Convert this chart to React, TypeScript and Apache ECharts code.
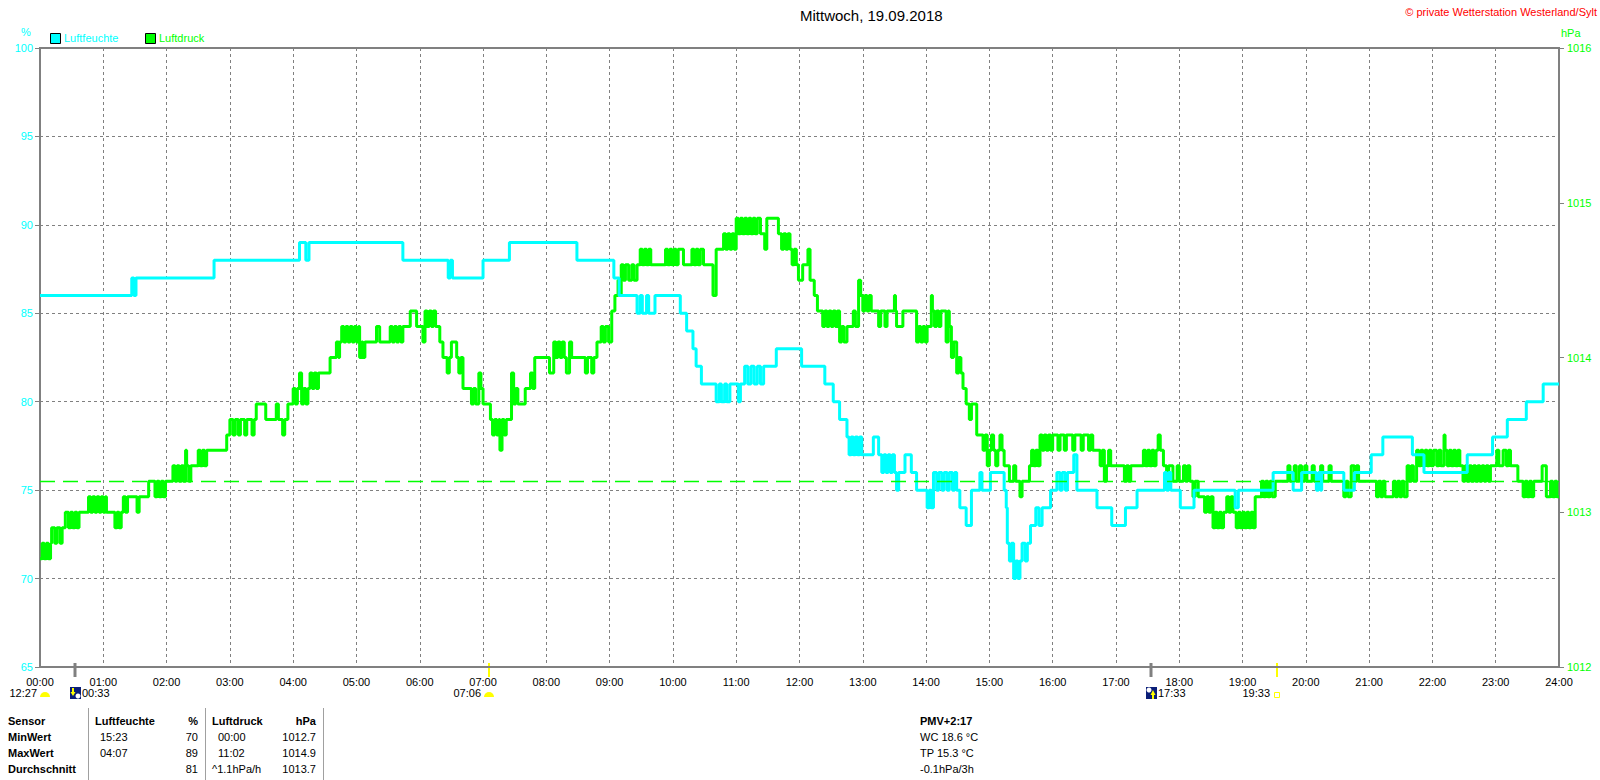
import React, { useEffect, useRef } from "react";
import * as echarts from "echarts";

const TITLE = "Mittwoch, 19.09.2018";
const COPYRIGHT = "© private Wetterstation Westerland/Sylt";
const HUM_NAME = "Luftfeuchte";
const PRES_NAME = "Luftdruck";
const HUM_UNIT = "%";
const PRES_UNIT = "hPa";
const HUM_COLOR = "#00FFFF";
const PRES_COLOR = "#00FF00";
const GRID_COLOR = "#808080";
const FONT = "Liberation Sans, Arial, sans-serif";

// humidity [minute of day, %]
const humidity: [number, number][] = [
  [0, 86], [87, 87], [89, 86], [91, 87],
  [165, 88],
  [246, 89], [252, 88], [255, 89],
  [344, 88],
  [387, 87], [389, 88], [391, 87],
  [420, 88],
  [445, 89],
  [509, 88],
  [544, 87],
  [549, 86],
  [566, 85], [569, 86], [571, 85], [575, 86], [577, 85],
  [583, 86],
  [607, 85], [613, 84], [619, 83], [622, 82], [627, 81],
  [641, 80], [644, 81], [646, 80], [649, 81], [651, 80],
  [654, 81],
  [662, 80], [664, 81],
  [668, 82], [671, 81], [674, 82], [677, 81], [680, 82], [683, 81], [686, 82],
  [698, 83],
  [722, 82],
  [744, 81], [752, 80], [758, 79],
  [765, 78], [767, 77], [769, 78], [771, 77], [773, 78], [775, 77], [777, 78], [779, 77],
  [790, 78], [795, 77],
  [798, 76], [800, 77], [802, 76], [804, 77], [806, 76], [808, 77], [810, 76],
  [812, 75], [814, 76],
  [820, 77],
  [826, 76],
  [831, 75],
  [841, 74], [843, 75], [845, 74],
  [847, 76], [850, 75], [852, 76], [855, 75], [857, 76], [860, 75], [862, 76], [865, 75], [867, 76],
  [869, 75],
  [872, 74],
  [878, 73],
  [883, 75],
  [891, 76],
  [893, 75],
  [901, 76],
  [914, 75], [916, 74],
  [917, 72], [919, 71], [921, 72],
  [923, 70], [925, 71], [927, 70], [929, 71],
  [931, 72], [934, 71], [936, 72],
  [939, 73],
  [944, 74], [947, 73], [950, 74],
  [958, 75],
  [964, 76], [967, 75], [969, 76], [972, 75], [974, 76],
  [980, 77],
  [983, 75],
  [1002, 74],
  [1016, 73],
  [1029, 74],
  [1040, 75],
  [1066, 76], [1068, 75], [1070, 76],
  [1072, 75],
  [1081, 74],
  [1094, 75],
  [1133, 74], [1136, 75],
  [1169, 76],
  [1188, 75],
  [1196, 76],
  [1210, 75], [1212, 76], [1214, 75],
  [1215, 76],
  [1236, 75],
  [1246, 76],
  [1262, 77],
  [1273, 78],
  [1301, 77],
  [1312, 76],
  [1353, 77],
  [1377, 78],
  [1391, 79],
  [1409, 80],
  [1425, 81],
  [1440, 81],
];

// air pressure [minute of day, hPa]
const pressure: [number, number][] = [
  [0, 1012.7], [2, 1012.8], [4, 1012.7], [6, 1012.8], [8, 1012.7], [10, 1012.8],
  [11, 1012.9], [14, 1012.8], [16, 1012.9], [19, 1012.8], [21, 1012.9],
  [24, 1013.0], [27, 1012.9], [29, 1013.0], [31, 1012.9], [33, 1013.0], [35, 1012.9], [37, 1013.0],
  [46, 1013.1], [48, 1013.0], [50, 1013.1], [52, 1013.0], [54, 1013.1], [56, 1013.0], [58, 1013.1], [60, 1013.0], [62, 1013.1],
  [63, 1013.0],
  [71, 1012.9], [73, 1013.0], [75, 1012.9], [77, 1013.0],
  [79, 1013.1], [81, 1013.0], [83, 1013.1],
  [92, 1013.0], [94, 1013.1],
  [103, 1013.2],
  [109, 1013.1], [111, 1013.2], [113, 1013.1], [115, 1013.2], [117, 1013.1], [119, 1013.2],
  [126, 1013.3], [128, 1013.2], [130, 1013.3], [132, 1013.2], [134, 1013.3], [136, 1013.2], [138, 1013.4], [139, 1013.3], [141, 1013.2], [143, 1013.3],
  [150, 1013.4], [152, 1013.3], [154, 1013.4], [156, 1013.3], [158, 1013.4],
  [177, 1013.5],
  [180, 1013.6], [183, 1013.5], [185, 1013.6], [188, 1013.5], [190, 1013.6], [194, 1013.5], [196, 1013.6],
  [201, 1013.5], [203, 1013.6],
  [205, 1013.7],
  [214, 1013.6],
  [224, 1013.7], [226, 1013.6],
  [230, 1013.5], [232, 1013.6],
  [235, 1013.7],
  [240, 1013.8], [242, 1013.7], [244, 1013.8], [246, 1013.9], [248, 1013.7], [250, 1013.8], [252, 1013.7], [254, 1013.8],
  [256, 1013.9], [258, 1013.8], [260, 1013.9], [262, 1013.8], [264, 1013.9],
  [275, 1014.0],
  [281, 1014.1], [283, 1014.0], [284, 1014.1],
  [286, 1014.2], [288, 1014.1], [290, 1014.2], [292, 1014.1], [294, 1014.2], [296, 1014.1], [298, 1014.2], [300, 1014.1], [302, 1014.2],
  [303, 1014.0], [305, 1014.1], [306, 1014.0],
  [308, 1014.1],
  [319, 1014.2],
  [322, 1014.1],
  [332, 1014.2], [334, 1014.1], [336, 1014.2], [338, 1014.1], [340, 1014.2], [342, 1014.1],
  [344, 1014.2],
  [351, 1014.3],
  [357, 1014.2],
  [363, 1014.1], [365, 1014.3], [367, 1014.2], [369, 1014.3], [371, 1014.2], [373, 1014.3], [375, 1014.2],
  [379, 1014.1],
  [382, 1014.0],
  [386, 1013.9], [388, 1014.0],
  [390, 1014.1],
  [395, 1014.0], [397, 1013.9], [399, 1014.0],
  [401, 1013.8],
  [409, 1013.7], [411, 1013.8], [413, 1013.7],
  [416, 1013.9], [418, 1013.8],
  [420, 1013.7],
  [427, 1013.6], [429, 1013.5], [431, 1013.6], [433, 1013.5], [435, 1013.6],
  [436, 1013.4],
  [438, 1013.6], [440, 1013.5], [442, 1013.6],
  [447, 1013.9], [449, 1013.7], [451, 1013.8],
  [453, 1013.7],
  [460, 1013.8],
  [465, 1013.9], [467, 1013.8],
  [469, 1014.0],
  [483, 1013.9],
  [487, 1014.1], [489, 1014.0], [491, 1014.1], [493, 1014.0], [495, 1014.1], [497, 1014.0],
  [499, 1013.9],
  [502, 1014.1], [504, 1014.0],
  [517, 1013.9],
  [519, 1014.0], [523, 1013.9], [525, 1014.0],
  [528, 1014.1],
  [532, 1014.2], [534, 1014.1], [536, 1014.2],
  [539, 1014.1],
  [542, 1014.3],
  [545, 1014.4],
  [548, 1014.5], [550, 1014.4],
  [551, 1014.6], [553, 1014.5], [555, 1014.6],
  [558, 1014.5], [561, 1014.6], [563, 1014.5], [566, 1014.6],
  [569, 1014.7], [571, 1014.6], [573, 1014.7], [575, 1014.6], [577, 1014.7], [579, 1014.6],
  [593, 1014.7], [595, 1014.6], [597, 1014.7], [599, 1014.6], [601, 1014.7], [603, 1014.6],
  [605, 1014.7],
  [610, 1014.6],
  [618, 1014.7], [620, 1014.6], [622, 1014.7], [624, 1014.6], [626, 1014.7],
  [629, 1014.6],
  [638, 1014.4],
  [641, 1014.7],
  [648, 1014.8],
  [650, 1014.7], [652, 1014.8], [654, 1014.7], [656, 1014.8], [658, 1014.7],
  [660, 1014.9], [662, 1014.8], [664, 1014.9], [666, 1014.8], [668, 1014.9], [670, 1014.8], [672, 1014.9], [674, 1014.8], [676, 1014.9], [678, 1014.8], [680, 1014.9],
  [683, 1014.8],
  [687, 1014.7],
  [689, 1014.9],
  [700, 1014.8],
  [703, 1014.7], [705, 1014.8], [707, 1014.7], [709, 1014.8], [711, 1014.7],
  [713, 1014.6], [715, 1014.7], [717, 1014.6],
  [719, 1014.5],
  [723, 1014.6],
  [728, 1014.7],
  [730, 1014.5],
  [734, 1014.4],
  [737, 1014.3],
  [742, 1014.2], [744, 1014.3], [746, 1014.2], [748, 1014.3], [750, 1014.2], [752, 1014.3], [754, 1014.2], [756, 1014.3],
  [758, 1014.1], [760, 1014.2], [762, 1014.1],
  [765, 1014.2],
  [771, 1014.3], [773, 1014.2],
  [776, 1014.5],
  [778, 1014.4], [780, 1014.3], [782, 1014.4], [784, 1014.3], [786, 1014.4], [788, 1014.3],
  [795, 1014.2], [797, 1014.3], [801, 1014.2], [803, 1014.3], [810, 1014.4], [811, 1014.3],
  [812, 1014.2],
  [818, 1014.3],
  [831, 1014.1], [833, 1014.2], [835, 1014.1], [837, 1014.2], [839, 1014.1],
  [841, 1014.2],
  [845, 1014.4], [846, 1014.3], [848, 1014.2], [850, 1014.3], [852, 1014.2], [854, 1014.3],
  [859, 1014.1], [861, 1014.3], [862, 1014.2],
  [864, 1014.0], [866, 1014.1],
  [869, 1013.9], [871, 1014.0], [873, 1013.9],
  [875, 1013.8],
  [878, 1013.7], [881, 1013.6], [883, 1013.7],
  [888, 1013.5],
  [894, 1013.4], [896, 1013.5], [898, 1013.3], [900, 1013.4], [902, 1013.5], [904, 1013.4], [906, 1013.3], [908, 1013.4], [910, 1013.5], [912, 1013.4], [914, 1013.3],
  [919, 1013.2], [923, 1013.3], [925, 1013.2],
  [929, 1013.1], [931, 1013.2],
  [938, 1013.3], [940, 1013.4], [942, 1013.3], [944, 1013.4], [946, 1013.3],
  [948, 1013.5], [950, 1013.4], [952, 1013.5], [954, 1013.4], [956, 1013.5], [958, 1013.4], [960, 1013.5],
  [965, 1013.4], [967, 1013.5], [971, 1013.4], [973, 1013.5], [979, 1013.4], [981, 1013.5], [987, 1013.4], [989, 1013.5], [994, 1013.4], [996, 1013.5],
  [998, 1013.4],
  [1005, 1013.3], [1007, 1013.4], [1009, 1013.2], [1011, 1013.3], [1013, 1013.4], [1015, 1013.3],
  [1028, 1013.2], [1030, 1013.3], [1032, 1013.2], [1034, 1013.3],
  [1046, 1013.4], [1048, 1013.3], [1050, 1013.4], [1052, 1013.3], [1054, 1013.4], [1056, 1013.3], [1058, 1013.4], [1060, 1013.5], [1062, 1013.4],
  [1065, 1013.3], [1068, 1013.2], [1070, 1013.3],
  [1074, 1013.2], [1078, 1013.3], [1080, 1013.2],
  [1084, 1013.3], [1086, 1013.2], [1088, 1013.3],
  [1090, 1013.2], [1093, 1013.1], [1095, 1013.2],
  [1098, 1013.1],
  [1104, 1013.0], [1106, 1013.1], [1108, 1013.0], [1110, 1013.1],
  [1112, 1012.9], [1114, 1013.0], [1116, 1012.9], [1118, 1013.0], [1120, 1012.9], [1122, 1013.0],
  [1125, 1013.1], [1127, 1013.0], [1129, 1013.1], [1131, 1013.0],
  [1134, 1012.9], [1136, 1013.0], [1138, 1012.9], [1140, 1013.0], [1142, 1012.9], [1144, 1013.0], [1146, 1012.9], [1148, 1013.0], [1150, 1012.9],
  [1152, 1013.1],
  [1158, 1013.2], [1160, 1013.1], [1162, 1013.2], [1164, 1013.1], [1166, 1013.2], [1168, 1013.1],
  [1171, 1013.2],
  [1183, 1013.3], [1185, 1013.2], [1189, 1013.3], [1191, 1013.2], [1194, 1013.3], [1196, 1013.2], [1199, 1013.3], [1201, 1013.2], [1206, 1013.3], [1208, 1013.2], [1214, 1013.3], [1216, 1013.2], [1222, 1013.3], [1224, 1013.2],
  [1236, 1013.1], [1238, 1013.2], [1240, 1013.1],
  [1243, 1013.3], [1246, 1013.2], [1248, 1013.3],
  [1250, 1013.2],
  [1267, 1013.1], [1269, 1013.2], [1271, 1013.1], [1273, 1013.2], [1275, 1013.1],
  [1283, 1013.2], [1285, 1013.1], [1287, 1013.2], [1289, 1013.1], [1291, 1013.2], [1293, 1013.1],
  [1296, 1013.3], [1298, 1013.2], [1300, 1013.3], [1302, 1013.2],
  [1305, 1013.4], [1307, 1013.3], [1309, 1013.4], [1311, 1013.3], [1313, 1013.4], [1315, 1013.3], [1317, 1013.4], [1319, 1013.3], [1321, 1013.4],
  [1324, 1013.3], [1326, 1013.4], [1328, 1013.3], [1331, 1013.5], [1332, 1013.4],
  [1334, 1013.3], [1336, 1013.4], [1338, 1013.3], [1340, 1013.4], [1342, 1013.3], [1344, 1013.4], [1346, 1013.3],
  [1349, 1013.2], [1351, 1013.3], [1353, 1013.2], [1355, 1013.3], [1357, 1013.2], [1359, 1013.3], [1361, 1013.2], [1363, 1013.3], [1365, 1013.2], [1367, 1013.3], [1369, 1013.2], [1371, 1013.3], [1373, 1013.2], [1375, 1013.3],
  [1381, 1013.4], [1383, 1013.3],
  [1387, 1013.4], [1390, 1013.3], [1392, 1013.4],
  [1394, 1013.3],
  [1401, 1013.2],
  [1406, 1013.1], [1408, 1013.2], [1410, 1013.1], [1412, 1013.2], [1414, 1013.1],
  [1416, 1013.2],
  [1424, 1013.3],
  [1428, 1013.1],
  [1432, 1013.2], [1434, 1013.1], [1436, 1013.2], [1438, 1013.1], [1440, 1013.1],
];

const pressureRef = 1013.2;

const humAxis = { min: 65, max: 100, interval: 5 };
const presAxis = { min: 1012, max: 1016, interval: 1 };
const timeAxis = { min: 0, max: 1440, interval: 60 };

// astronomical events under the time axis
const dayLength = "12:27";
const astroEvents = [
  { minute: 33, label: "00:33", kind: "moonset" },
  { minute: 426, label: "07:06", kind: "sunrise" },
  { minute: 1053, label: "17:33", kind: "moonrise" },
  { minute: 1173, label: "19:33", kind: "sunset" },
];

// statistics table
const tableHeader = ["Sensor", "Luftfeuchte", "%", "Luftdruck", "hPa"];
const tableRowLabels = ["MinWert", "MaxWert", "Durchschnitt"];
const humTimes = ["15:23", "04:07", ""];
const humValues = ["70", "89", "81"];
const presTimes = ["00:00", "11:02", "^1.1hPa/h"];
const presValues = ["1012.7", "1014.9", "1013.7"];
const pmvLines = ["PMV+2:17", "WC 18.6 °C", "TP 15.3 °C", "-0.1hPa/3h"];

const pad2 = (n: number) => (n < 10 ? "0" + n : "" + n);

function txt(x: number, y: number, text: string, opts: any = {}) {
  const align = opts.align || "left";
  return {
    type: "text",
    x,
    y,
    silent: true,
    style: {
      text,
      fill: opts.color || "#000",
      font: `${opts.weight || "normal"} ${opts.size || 11}px ${FONT}`,
      align,
      textAlign: align,
      verticalAlign: "middle",
      textVerticalAlign: "middle",
    },
  };
}

export default function App() {
  const ref = useRef<HTMLDivElement>(null);

  useEffect(() => {
    if (!ref.current) return;
    const chart = echarts.init(ref.current, undefined, { renderer: "svg" });

    const option: any = {
      animation: false,
      backgroundColor: "#fff",
      textStyle: { fontFamily: FONT },
      grid: {
        left: 40,
        right: 41,
        top: 48,
        bottom: 113,
        show: true,
        borderColor: GRID_COLOR,
        borderWidth: 2,
        backgroundColor: "transparent",
      },
      xAxis: {
        type: "value",
        min: timeAxis.min,
        max: timeAxis.max,
        interval: timeAxis.interval,
        axisLine: { show: true, lineStyle: { color: GRID_COLOR, width: 2 } },
        axisTick: { show: false },
        axisLabel: {
          color: "#000",
          fontSize: 11,
          margin: 9,
          formatter: (v: number) => pad2(Math.round(v / 60)) + ":00",
        },
        splitLine: { show: true, lineStyle: { color: GRID_COLOR, type: [3, 3], width: 1 } },
      },
      yAxis: [
        {
          type: "value",
          min: humAxis.min,
          max: humAxis.max,
          interval: humAxis.interval,
          position: "left",
          axisLine: { show: true, lineStyle: { color: GRID_COLOR, width: 2 } },
          axisTick: { show: true, length: 5, lineStyle: { color: GRID_COLOR, width: 1 } },
          axisLabel: { color: HUM_COLOR, fontSize: 11, margin: 7, formatter: (v: number) => String(v) },
          splitLine: { show: true, lineStyle: { color: GRID_COLOR, type: [3, 3], width: 1 } },
        },
        {
          type: "value",
          min: presAxis.min,
          max: presAxis.max,
          interval: presAxis.interval,
          position: "right",
          axisLine: { show: true, lineStyle: { color: GRID_COLOR, width: 2 } },
          axisTick: { show: true, length: 5, lineStyle: { color: GRID_COLOR, width: 1 } },
          axisLabel: { color: PRES_COLOR, fontSize: 11, margin: 8, formatter: (v: number) => String(v) },
          splitLine: { show: false },
        },
      ],
      series: [
        {
          name: PRES_NAME,
          type: "line",
          yAxisIndex: 1,
          step: "end",
          data: pressure,
          showSymbol: false,
          symbol: "none",
          lineStyle: { color: PRES_COLOR, width: 3 },
          itemStyle: { color: PRES_COLOR },
          z: 2,
          markLine: {
            silent: true,
            symbol: ["none", "none"],
            label: { show: false },
            lineStyle: { color: PRES_COLOR, type: [15, 8], width: 1.3, opacity: 1 },
            data: [{ yAxis: pressureRef }],
          },
        },
        {
          name: HUM_NAME,
          type: "line",
          yAxisIndex: 0,
          step: "end",
          data: humidity,
          showSymbol: false,
          symbol: "none",
          lineStyle: { color: HUM_COLOR, width: 3 },
          itemStyle: { color: HUM_COLOR },
          z: 3,
        },
      ],
    };
    chart.setOption(option);

    const axisY = chart.convertToPixel({ yAxisIndex: 0 }, humAxis.min) as number;
    const g: any[] = [];

    // title, copyright, units, legend
    g.push(txt(800, 15, TITLE, { size: 15 }));
    g.push(txt(1597, 12, COPYRIGHT, { color: "#FF0000", align: "right" }));
    g.push(txt(26, 32, HUM_UNIT, { color: HUM_COLOR, align: "center" }));
    g.push(txt(1561, 33, PRES_UNIT, { color: PRES_COLOR }));
    g.push({ type: "rect", silent: true, shape: { x: 50.5, y: 33.5, width: 10, height: 10 }, style: { fill: HUM_COLOR, stroke: "#000", lineWidth: 1 } });
    g.push(txt(64, 38, HUM_NAME, { color: HUM_COLOR }));
    g.push({ type: "rect", silent: true, shape: { x: 145.5, y: 33.5, width: 10, height: 10 }, style: { fill: PRES_COLOR, stroke: "#000", lineWidth: 1 } });
    g.push(txt(159, 38, PRES_NAME, { color: PRES_COLOR }));

    // day length
    const rowY = axisY + 26;
    g.push(txt(37, rowY, dayLength, { align: "right" }));
    g.push({ type: "sector", silent: true, shape: { cx: 45, cy: rowY + 4, r0: 0, r: 5, startAngle: Math.PI, endAngle: Math.PI * 2 }, style: { fill: "#FFFF00" } });

    astroEvents.forEach((ev) => {
      const px = Math.round(chart.convertToPixel({ xAxisIndex: 0 }, ev.minute) as number);
      const isMoon = ev.kind === "moonset" || ev.kind === "moonrise";
      g.push({
        type: "line",
        silent: true,
        shape: { x1: px, y1: axisY - 4, x2: px, y2: axisY + 10 },
        style: { stroke: isMoon ? GRID_COLOR : "#FFFF00", lineWidth: isMoon ? 3 : 2 },
      });
      if (isMoon) {
        const ix = px - 5;
        const iy = rowY - 6;
        g.push({ type: "rect", silent: true, shape: { x: ix, y: iy, width: 11, height: 12 }, style: { fill: "#0A1E78" } });
        if (ev.kind === "moonset") {
          g.push({ type: "circle", silent: true, shape: { cx: ix + 8, cy: iy + 9, r: 2.5 }, style: { fill: "#FFFFFF" } });
          g.push({ type: "rect", silent: true, shape: { x: ix + 2, y: iy + 1, width: 2, height: 5 }, style: { fill: "#FFFF00" } });
          g.push({ type: "polygon", silent: true, shape: { points: [[ix + 0.5, iy + 5], [ix + 5.5, iy + 5], [ix + 3, iy + 9]] }, style: { fill: "#FFFF00" } });
        } else {
          g.push({ type: "circle", silent: true, shape: { cx: ix + 3, cy: iy + 3, r: 2.5 }, style: { fill: "#FFFFFF" } });
          g.push({ type: "rect", silent: true, shape: { x: ix + 6, y: iy + 7, width: 2, height: 5 }, style: { fill: "#FFFF00" } });
          g.push({ type: "polygon", silent: true, shape: { points: [[ix + 4.5, iy + 8], [ix + 9.5, iy + 8], [ix + 7, iy + 3]] }, style: { fill: "#FFFF00" } });
        }
        g.push(txt(px + 7, rowY, ev.label));
      } else if (ev.kind === "sunrise") {
        g.push(txt(px - 8, rowY, ev.label, { align: "right" }));
        g.push({ type: "sector", silent: true, shape: { cx: px, cy: rowY + 4, r0: 0, r: 5, startAngle: Math.PI, endAngle: Math.PI * 2 }, style: { fill: "#FFFF00" } });
      } else {
        g.push(txt(px - 7, rowY, ev.label, { align: "right" }));
        g.push({ type: "rect", silent: true, shape: { x: px - 2.5, y: rowY - 0.5, width: 5, height: 5 }, style: { fill: "none", stroke: "#FFFF00", lineWidth: 1 } });
      }
    });

    // table
    const rows = [721, 737, 753, 769];
    g.push(txt(8, rows[0], tableHeader[0], { weight: "bold" }));
    g.push(txt(95, rows[0], tableHeader[1], { weight: "bold" }));
    g.push(txt(198, rows[0], tableHeader[2], { weight: "bold", align: "right" }));
    g.push(txt(212, rows[0], tableHeader[3], { weight: "bold" }));
    g.push(txt(316, rows[0], tableHeader[4], { weight: "bold", align: "right" }));
    tableRowLabels.forEach((lab, i) => {
      const y = rows[i + 1];
      g.push(txt(8, y, lab, { weight: "bold" }));
      if (humTimes[i]) g.push(txt(100, y, humTimes[i]));
      g.push(txt(198, y, humValues[i], { align: "right" }));
      g.push(txt(presTimes[i].startsWith("^") ? 212 : 218, y, presTimes[i]));
      g.push(txt(316, y, presValues[i], { align: "right" }));
    });
    [88, 205, 323].forEach((x) => {
      g.push({ type: "line", silent: true, shape: { x1: x + 0.5, y1: 708, x2: x + 0.5, y2: 780 }, style: { stroke: "#A0A0A0", lineWidth: 1 } });
    });
    pmvLines.forEach((t, i) => {
      g.push(txt(920, rows[i], t, { weight: i === 0 ? "bold" : "normal" }));
    });

    chart.setOption({ graphic: g });

    return () => {
      chart.dispose();
    };
  }, []);

  return (
    <div
      ref={ref}
      style={{ position: "fixed", left: 0, top: 0, width: 1600, height: 780, background: "#fff" }}
    />
  );
}
